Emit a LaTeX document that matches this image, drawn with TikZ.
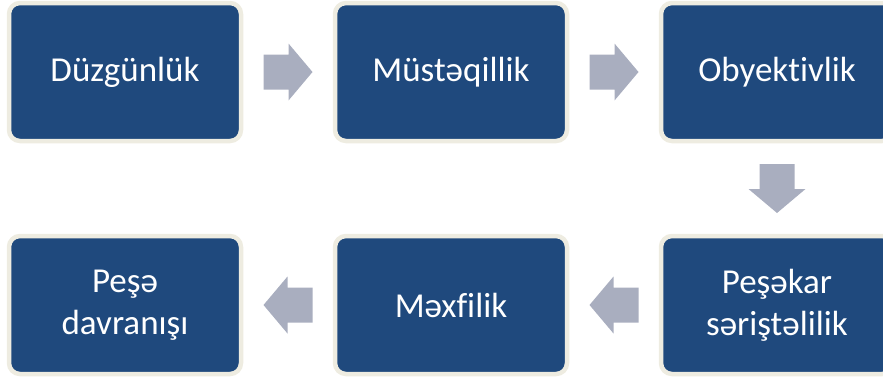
\documentclass[tikz,border=0pt]{standalone}
\usepackage{fontspec}
\setmainfont{Carlito}[Ligatures={NoCommon}]
\usetikzlibrary{calc}
\definecolor{boxblue}{HTML}{1F497D}
\definecolor{boxframe}{HTML}{EEECE1}
\definecolor{arrowgray}{HTML}{A9AEBF}
\tikzset{
  stepbox/.style={rectangle, rounded corners=11pt, draw=boxframe, line width=4.5pt,
    fill=boxblue, text=white, minimum width=232pt, minimum height=138pt,
    inner sep=0pt, align=center, font=\fontsize{35}{42}\selectfont},
  blockarrow/.pic={
    \fill[arrowgray] (-24.5,-17.5) -- (0.5,-17.5) -- (0.5,-28.5) -- (24.5,0)
      -- (0.5,28.5) -- (0.5,17.5) -- (-24.5,17.5) -- cycle;}
}
\begin{document}
\begin{tikzpicture}[x=1pt,y=-1pt]
  \useasboundingbox (0,0) rectangle (883,376);
  % top row, left to right
  \node[stepbox] (b1) at (125,72) {Düzgünlük};
  \node[stepbox] (b2) at (451,72) {Müstəqillik};
  \node[stepbox] (b3) at (777,72) {Obyektivlik};
  % bottom row, right to left
  \node[stepbox] (b4) at (777,305) {Peşəkar\\səriştəlilik};
  \node[stepbox] (b5) at (451,305) {Məxfilik};
  \node[stepbox] (b6) at (125,305) {Peşə\\davranışı};
  % block arrows between the steps
  \path ($(b1.east)!0.5!(b2.west)$) pic {blockarrow};
  \path ($(b2.east)!0.5!(b3.west)$) pic {blockarrow};
  \path ($(b3.south)!0.5!(b4.north)$) pic[rotate=-90] {blockarrow};
  \path ($(b4.west)!0.5!(b5.east)$) pic[rotate=180] {blockarrow};
  \path ($(b5.west)!0.5!(b6.east)$) pic[rotate=180] {blockarrow};
\end{tikzpicture}
\end{document}
